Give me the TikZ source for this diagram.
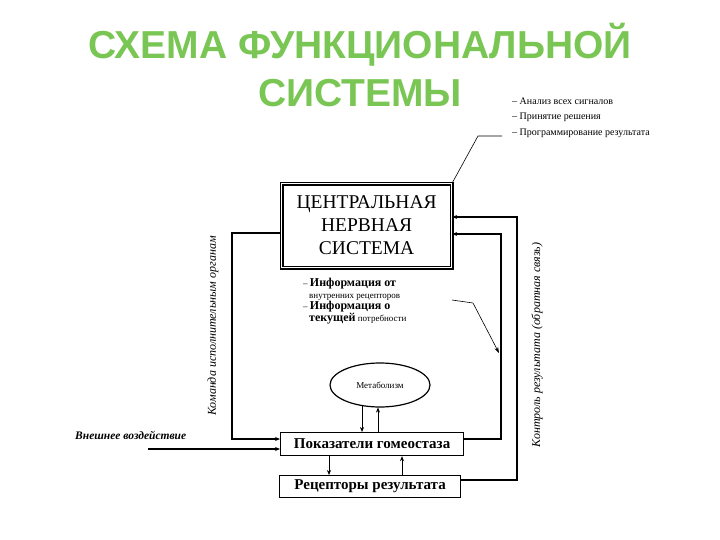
\documentclass[tikz,border=0pt]{standalone}
\usepackage{fontspec}
\setmainfont{Liberation Serif}
\newfontfamily\titlefont{Liberation Sans}
\usetikzlibrary{arrows.meta,shapes.geometric}
\definecolor{tgreen}{RGB}{122,198,84}
\begin{document}
\begin{tikzpicture}[x=1pt,y=-1pt,
  box/.style={draw,line width=1.2pt,inner sep=0pt,anchor=north west},
  conn/.style={line width=1.4pt,-{Stealth[length=5pt,width=4pt]}},
  thin/.style={line width=0.6pt},
  sm/.style={font=\fontsize{10}{11}\selectfont,anchor=west,inner sep=0pt}]
\useasboundingbox (0,0) rectangle (720,540);
\node[text=tgreen,font=\titlefont\bfseries\fontsize{39}{44}\selectfont] (t1) at (360,45) {СХЕМА ФУНКЦИОНАЛЬНОЙ};
\node[text=tgreen,font=\titlefont\bfseries\fontsize{39}{44}\selectfont] (t2) at (360,93) {СИСТЕМЫ};
% CNS
\node[box,double,double distance=1.5pt,minimum width=170,minimum height=84,align=center,font=\fontsize{19.5}{23}\selectfont] (cns) at (281,183) {ЦЕНТРАЛЬНАЯ\\НЕРВНАЯ\\СИСТЕМА};
\node[box,minimum width=183,minimum height=23,font=\bfseries\fontsize{15}{17}\selectfont] (hom) at (280,432) {Показатели гомеостаза};
\node[box,minimum width=181,minimum height=22,font=\bfseries\fontsize{15}{17}\selectfont] (rec) at (279,475) {Рецепторы результата};
\node[draw,ellipse,line width=1.2pt,minimum width=100,minimum height=44,font=\fontsize{9}{10}\selectfont] (met) at (380,385) {Метаболизм};
% top-right list
\node[sm] (l1) at (512,101) {– Анализ всех сигналов};
\node[sm] (l2) at (512,117) {– Принятие решения};
\node[sm] (l3) at (512,133) {– Программирование результата};
\coordinate (k1) at (478,136);
\coordinate (k2) at (502,136);
\draw[thin] (cns.north east) -- (k1) -- (k2);
% info text
\node[anchor=north west,inner sep=0pt,align=left,font=\fontsize{9}{11.5}\selectfont] (info) at (303,278)
 {– {\bfseries\fontsize{12}{11}\selectfont Информация от}\\
  \hspace{6pt}внутренних рецепторов\\
  – {\bfseries\fontsize{12}{11}\selectfont Информация о}\\
  \hspace{6pt}{\bfseries\fontsize{12}{11}\selectfont текущей} потребности};
\coordinate (i1) at (452,300);
\coordinate (i2) at (473,303);
\coordinate (i3) at (499,353);
\draw[thin,-{Stealth[length=6pt,width=4pt]}] (i1) -- (i2) -- (i3);
% left loop
\coordinate (a1) at (232,233);
\coordinate (a2) at (232,439);
\draw[conn] (cns.west |- 0,233) -- (a1) -- (a2) -- (hom.west |- 0,439);
\node[rotate=90,font=\itshape\fontsize{12}{13}\selectfont] (lblL) at (213,326) {Команда исполнительным органам};
% inner right loop
\coordinate (b1) at (501,439);
\coordinate (b2) at (501,234);
\draw[conn] (hom.east |- 0,439) -- (b1) -- (b2) -- (cns.east |- 0,234);
% outer right loop
\coordinate (c1) at (517,480);
\coordinate (c2) at (517,217);
\draw[conn] (rec.east |- 0,480) -- (c1) -- (c2) -- (cns.east |- 0,217);
\node[rotate=90,font=\itshape\fontsize{12}{13}\selectfont] (lblR) at (537,345) {Контроль результата (обратная связь)};
% external
\node[anchor=west,inner sep=0pt,font=\bfseries\itshape\fontsize{11.5}{12}\selectfont] (ext) at (75,435) {Внешнее воздействие};
\coordinate (e1) at (148,449);
\draw[conn] (e1) -- (hom.west |- 0,449);
% small arrows
\draw[thin,-{Stealth[length=5pt,width=4pt]}] (met.south -| 362,0) ++(0,-2) -- (hom.north -| 362,0);
\draw[thin,-{Stealth[length=5pt,width=4pt]}] (hom.north -| 378,0) -- (met.south -| 378,0);
\draw[thin,-{Stealth[length=5pt,width=4pt]}] (hom.south -| 329,0) -- (rec.north -| 329,0);
\draw[thin,-{Stealth[length=5pt,width=4pt]}] (rec.north -| 402,0) -- (hom.south -| 402,0);
\end{tikzpicture}
\end{document}
